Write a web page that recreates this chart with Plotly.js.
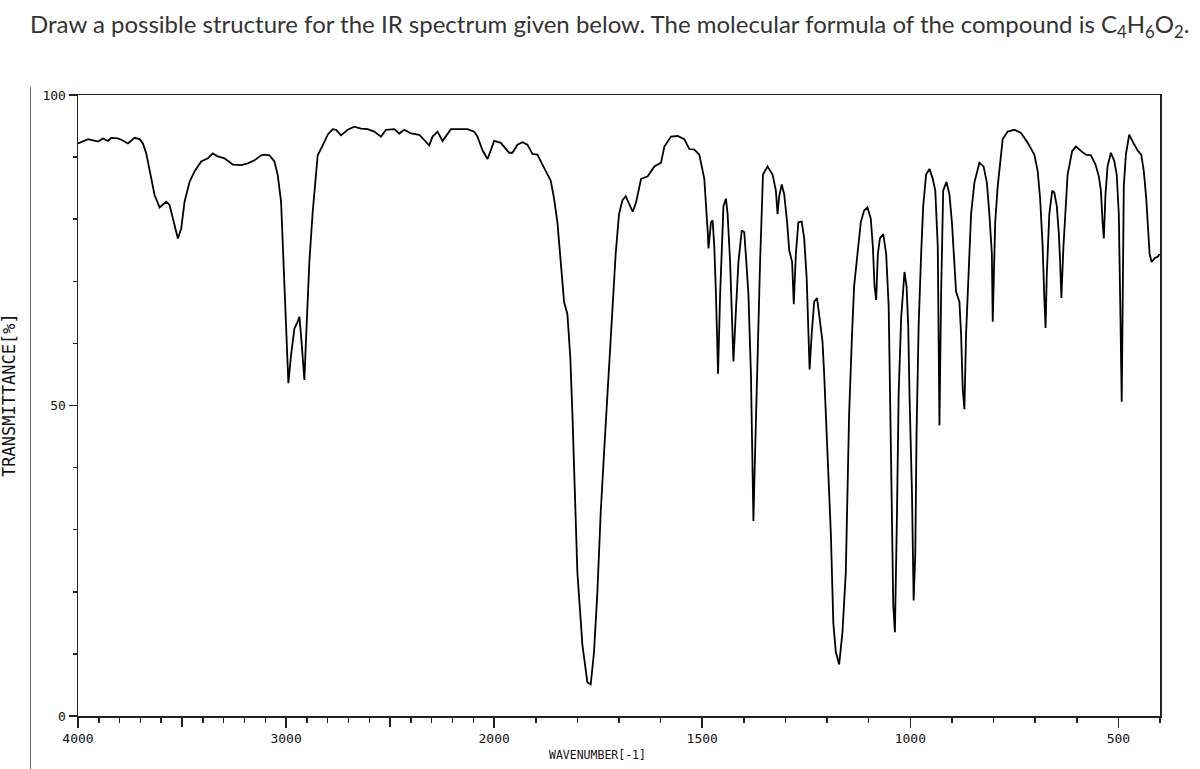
<!DOCTYPE html>
<html>
<head>
<meta charset="utf-8">
<script src="https://cdn.plot.ly/plotly-3.0.1.min.js"></script>
<style>
  html, body { margin: 0; padding: 0; background: #fff; }
  #chart { width: 1200px; height: 769px; }
</style>
</head>
<body>
<div id="chart"></div>
<script>
// ---- Data (wavenumber in cm-1, transmittance in %) ----
const wnHigh = [4000,3952,3904,3880,3856,3840,3808,3792,3760,3728,3704,3688,3672,3656,3632,3608,3576,3560,3544,3520,3504,3488,3464,3440,3408,3376,3352,3328,3296,3256,3216,3184,3152,3120,3104,3080,3056,3040,3024,3016,3008,3000,2989,2976,2960,2944,2936,2928,2920,2912,2904,2896,2888,2872,2861,2848,2824,2800,2776,2760,2736,2704,2672,2640,2608,2576,2544,2520,2480,2456,2432,2400,2360,2336,2312,2296,2272,2248,2224,2208,2168,2128,2096,2080,2056,2032,2016,2000];
const tHigh = [92.2,92.9,92.5,93.0,92.6,93.1,93.0,92.8,92.2,93.1,92.9,92.2,90.6,87.9,83.9,81.9,82.8,82.3,80.1,76.9,78.5,82.8,86.0,87.7,89.3,89.8,90.6,90.1,89.8,88.8,88.7,89.0,89.5,90.3,90.4,90.3,89.3,87.1,82.8,75.8,67.8,60.8,53.6,58.1,62.4,63.5,64.3,61.3,57.1,54.1,60.8,67.8,73.2,81.2,86.0,90.3,91.9,93.6,94.5,94.4,93.5,94.4,94.9,94.6,94.5,94.1,93.3,94.4,94.5,93.8,94.4,93.8,93.6,92.8,91.9,93.3,94.1,92.6,93.8,94.5,94.5,94.5,94.1,93.3,91.1,89.7,91.1,92.6];

const wnMid = [1984,1964,1956,1944,1932,1920,1908,1896,1884,1872,1864,1856,1848,1840,1832,1824,1817,1812,1806,1800,1788,1776,1768,1760,1752,1744,1736,1728,1720,1712,1708,1700,1692,1684,1675,1667,1659,1647,1631,1615,1599,1591,1575,1559,1543,1531,1519,1507,1495,1491,1487,1485,1479,1475,1471,1467,1465,1462,1457,1454,1449,1443,1439,1433,1429,1425,1419,1413,1405,1399,1394,1389,1383,1379,1377,1373,1367,1361,1354,1343,1331,1323,1319,1315,1309,1303,1296,1291,1284,1280,1275,1269,1261,1255,1249,1245,1242,1237,1231,1224,1219,1211,1207,1199,1191,1185];
const tMid = [92.3,90.7,90.7,92.0,92.4,92.0,90.5,90.4,88.8,87.2,86.2,83.3,79.5,73.1,66.7,64.7,57.7,48.7,35.9,23.1,11.5,5.4,5.1,10.3,19.9,32.7,42.3,51.9,61.5,69.2,74.4,80.8,83.0,83.7,82.4,81.2,82.7,86.5,86.9,88.5,89.1,91.7,93.3,93.4,92.9,91.3,91.2,90.4,86.5,82.7,78.2,75.3,79.5,79.8,75.6,67.9,62.2,55.1,67.9,74.4,82.1,83.3,80.8,73.1,64.1,57.1,65.4,73.1,78.2,77.9,73.1,67.9,55.1,42.3,31.4,42.3,58.3,73.1,87.2,88.5,87.2,84.6,80.8,83.7,85.6,84.0,79.5,75.0,73.1,66.3,74.4,79.5,79.6,76.9,70.5,62.8,55.8,61.5,66.7,67.3,64.7,60.3,55.1,42.3,29.5,15.0];

const wnLow = [1179,1171,1163,1155,1151,1147,1140,1135,1127,1119,1111,1103,1095,1090,1086,1082,1078,1073,1065,1058,1052,1049,1045,1041,1037,1032,1028,1022,1017,1014,1009,1005,1002,996,992,988,985,980,974,969,962,954,946,940,934,932,930,926,921,913,906,900,894,890,882,878,874,870,866,860,854,846,834,824,816,810,804,802,796,790,784,778,766,750,734,718,702,694,688,682,678,675,672,666,659,654,648,643,640,637,632,627,622,611,602,590,578,566,555,547,542,538,535,531,526,518,510,504,499,495,492,490,487,482,474,464,453,445,439,433,429,425,420,413,405,401];
const tLow = [10.3,8.3,13.5,23.1,35.9,48.7,61.5,69.2,74.4,79.5,81.4,81.9,80.1,75.6,69.2,67.0,74.4,76.9,77.6,74.4,66.0,55.1,35.9,17.9,13.5,32.7,51.9,64.1,69.9,71.5,69.2,62.8,51.9,35.9,18.6,26.3,45.5,62.8,74.4,82.1,87.2,88.1,86.5,84.6,75.6,63.5,46.8,67.9,84.6,86.0,84.0,79.5,71.8,68.3,66.7,61.5,52.6,49.4,61.5,71.2,80.8,85.9,89.1,88.5,85.9,80.8,74.4,63.5,79.5,85.3,89.7,92.9,94.1,94.4,93.9,92.3,90.4,87.8,83.3,75.6,67.3,62.5,71.2,80.8,84.6,84.3,82.1,77.6,73.1,67.3,75.6,80.8,87.2,91.0,91.7,91.0,90.4,90.3,88.8,86.9,84.6,79.5,76.9,84.0,88.5,90.7,89.4,87.2,80.8,64.1,50.6,64.1,85.3,90.4,93.6,92.3,91.0,90.4,87.8,83.3,78.8,74.4,73.1,73.7,74.0,74.4];

const labelledTicks = [4000,3000,2000,1500,1000,500];
const labelledText = ['4000','3000','2000','1500','1000','500'];
const unlabelledMajorTicks = [3500,2500];
const yTickVals = [0,50,100];
const yTickText = ['0','50','100'];

// Spectrum chart scale: 4000-2000 cm-1 drawn at half the scale of 2000-400 cm-1
function scaleWn(w) { return w > 2000 ? 2000 + (w - 2000) / 2 : w; }

const wn = wnHigh.concat(wnMid, wnLow);
const tr = tHigh.concat(tMid, tLow);

const minorWn = [];
for (let w = 3900; w > 2000; w -= 100) if (w % 500 !== 0) minorWn.push(w);
for (let w = 1900; w >= 400; w -= 100) if (w % 500 !== 0) minorWn.push(w);

const tickFont = { family: 'DejaVu Sans Mono, monospace', size: 13, color: '#111' };
const xRange = [scaleWn(4000), 400];

const trace = {
  x: wn.map(scaleWn),
  y: tr,
  type: 'scatter',
  mode: 'lines',
  line: { color: '#000', width: 1.8 },
  hoverinfo: 'skip'
};

const layout = {
  width: 1200, height: 769,
  margin: { l: 78, r: 40, t: 95, b: 53 },
  paper_bgcolor: '#fff', plot_bgcolor: '#fff',
  showlegend: false,
  title: {
    text: 'Draw a possible structure for the IR spectrum given below. The molecular formula of the compound is C<sub>4</sub>H<sub>6</sub>O<sub>2</sub>.',
    font: { family: 'Lato, sans-serif', size: 24, color: '#333' },
    xref: 'container', yref: 'container',
    x: 30 / 1200, xanchor: 'left',
    y: 1 - 25 / 769, yanchor: 'middle'
  },
  xaxis: {
    range: xRange,
    showgrid: false, zeroline: false,
    showline: true, linecolor: '#222', linewidth: 1.5, mirror: true,
    tickmode: 'array',
    tickvals: labelledTicks.map(scaleWn),
    ticktext: labelledText,
    ticks: 'outside', ticklen: 10, tickwidth: 1.5, tickcolor: '#222',
    tickfont: tickFont,
    minor: { tickmode: 'array', tickvals: minorWn.map(scaleWn), ticks: 'outside', ticklen: 5, tickwidth: 1.5, tickcolor: '#222' }
  },
  xaxis2: {
    range: xRange, overlaying: 'x', anchor: 'y', side: 'bottom',
    showgrid: false, zeroline: false, showline: false,
    tickmode: 'array', tickvals: unlabelledMajorTicks.map(scaleWn),
    showticklabels: false,
    ticks: 'outside', ticklen: 10, tickwidth: 1.5, tickcolor: '#222'
  },
  yaxis: {
    range: [0, 100],
    showgrid: false, zeroline: false,
    showline: true, linecolor: '#222', linewidth: 1.5, mirror: true,
    tickmode: 'array', tickvals: yTickVals, ticktext: yTickText,
    ticks: 'outside', ticklen: 8, tickwidth: 1.5, tickcolor: '#222',
    tickfont: tickFont,
    minor: { dtick: 10, ticks: 'outside', ticklen: 4, tickwidth: 1.5, tickcolor: '#222' }
  },
  annotations: [
    { text: 'WAVENUMBER[-1]', xref: 'paper', yref: 'paper', x: (597 - 78) / 1082, y: (716 - 755) / 621,
      xanchor: 'center', yanchor: 'middle', showarrow: false,
      font: { family: 'DejaVu Sans Mono, monospace', size: 11.5, color: '#111' } },
    { text: 'TRANSMITTANCE[%]', xref: 'paper', yref: 'paper', x: (9 - 78) / 1082, y: (716 - 395) / 621,
      xanchor: 'center', yanchor: 'middle', textangle: -90, showarrow: false,
      font: { family: 'DejaVu Sans Mono, monospace', size: 17, color: '#111' } }
  ],
  shapes: [
    { type: 'line', xref: 'paper', yref: 'paper', x0: (30.5 - 78) / 1082, x1: (30.5 - 78) / 1082,
      y0: (716 - 87) / 621, y1: (716 - 769) / 621, line: { color: '#666', width: 1 } }
  ]
};

const dummy = { x: [scaleWn(4000)], y: [null], xaxis: 'x2', yaxis: 'y', type: 'scatter', mode: 'lines', hoverinfo: 'skip', showlegend: false };

Plotly.newPlot('chart', [trace, dummy], layout, { displayModeBar: false, staticPlot: true });
</script>
</body>
</html>
